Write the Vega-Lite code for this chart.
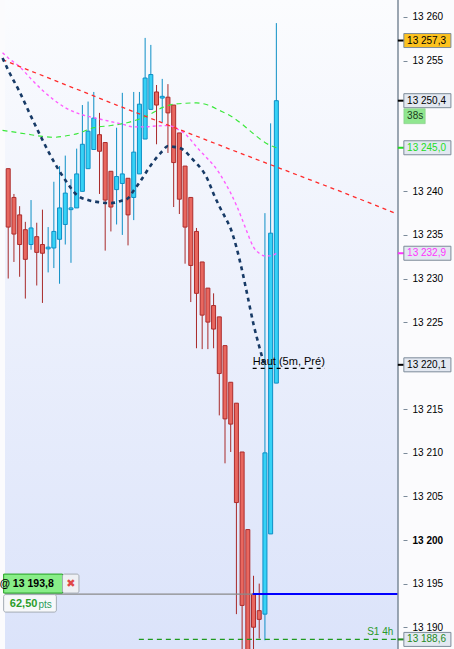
{
  "$schema": "https://vega.github.io/schema/vega-lite/v6.json",
  "width": 403,
  "height": 649,
  "autosize": {"type": "none"},
  "padding": {"left": 0, "top": 0, "right": 51, "bottom": 0},
  "background": "#fbfbfd",
  "config": {"view": {"stroke": null}, "font": "Liberation Sans"},
  "datasets": {
    "candles": [
      {"i": 1, "open": 13242.6, "high": 13242.6, "low": 13230.0, "close": 13235.9},
      {"i": 2, "open": 13239.3, "high": 13239.7, "low": 13231.9, "close": 13235.1},
      {"i": 3, "open": 13237.3, "high": 13238.3, "low": 13230.2, "close": 13233.9},
      {"i": 4, "open": 13235.6, "high": 13236.5, "low": 13227.7, "close": 13232.2},
      {"i": 5, "open": 13233.9, "high": 13239.0, "low": 13233.3, "close": 13235.8},
      {"i": 6, "open": 13234.8, "high": 13236.4, "low": 13229.2, "close": 13233.0},
      {"i": 7, "open": 13233.9, "high": 13237.9, "low": 13227.2, "close": 13232.9},
      {"i": 8, "open": 13233.4, "high": 13235.9, "low": 13230.7, "close": 13233.6},
      {"i": 9, "open": 13233.5, "high": 13241.1, "low": 13231.2, "close": 13235.4},
      {"i": 10, "open": 13234.5, "high": 13242.9, "low": 13229.4, "close": 13238.1},
      {"i": 11, "open": 13236.2, "high": 13244.1, "low": 13233.9, "close": 13239.8},
      {"i": 12, "open": 13237.9, "high": 13241.4, "low": 13231.8, "close": 13238.1},
      {"i": 13, "open": 13238.1, "high": 13244.9, "low": 13238.1, "close": 13242.0},
      {"i": 14, "open": 13240.0, "high": 13249.9, "low": 13240.0, "close": 13245.4},
      {"i": 15, "open": 13242.6, "high": 13250.3, "low": 13242.6, "close": 13246.9},
      {"i": 16, "open": 13244.8, "high": 13251.4, "low": 13244.8, "close": 13248.4},
      {"i": 17, "open": 13246.5, "high": 13249.0, "low": 13239.7, "close": 13244.6},
      {"i": 18, "open": 13245.6, "high": 13245.6, "low": 13233.2, "close": 13239.0},
      {"i": 19, "open": 13242.3, "high": 13242.3, "low": 13235.4, "close": 13238.2},
      {"i": 20, "open": 13240.2, "high": 13247.3, "low": 13236.2, "close": 13241.7},
      {"i": 21, "open": 13240.9, "high": 13251.3, "low": 13235.0, "close": 13242.0},
      {"i": 22, "open": 13241.5, "high": 13241.5, "low": 13233.8, "close": 13237.3},
      {"i": 23, "open": 13239.3, "high": 13251.4, "low": 13236.7, "close": 13244.5},
      {"i": 24, "open": 13242.0, "high": 13251.4, "low": 13242.0, "close": 13250.0},
      {"i": 25, "open": 13246.0, "high": 13257.6, "low": 13246.0, "close": 13253.0},
      {"i": 26, "open": 13249.4, "high": 13256.8, "low": 13249.4, "close": 13253.4},
      {"i": 27, "open": 13251.4, "high": 13252.2, "low": 13245.4, "close": 13249.9},
      {"i": 28, "open": 13250.7, "high": 13252.9, "low": 13247.9, "close": 13250.9},
      {"i": 29, "open": 13250.8, "high": 13252.3, "low": 13244.4, "close": 13249.0},
      {"i": 30, "open": 13249.9, "high": 13249.9, "low": 13238.2, "close": 13243.3},
      {"i": 31, "open": 13246.7, "high": 13246.7, "low": 13237.4, "close": 13239.1},
      {"i": 32, "open": 13242.9, "high": 13242.9, "low": 13231.7, "close": 13235.9},
      {"i": 33, "open": 13239.3, "high": 13239.3, "low": 13227.3, "close": 13231.5},
      {"i": 34, "open": 13235.4, "high": 13235.8, "low": 13222.0, "close": 13228.3},
      {"i": 35, "open": 13231.9, "high": 13231.9, "low": 13221.9, "close": 13225.8},
      {"i": 36, "open": 13228.9, "high": 13228.9, "low": 13221.9, "close": 13225.0},
      {"i": 37, "open": 13226.9, "high": 13228.3, "low": 13222.0, "close": 13224.2},
      {"i": 38, "open": 13225.6, "high": 13225.6, "low": 13214.3, "close": 13219.1},
      {"i": 39, "open": 13222.3, "high": 13222.3, "low": 13208.8, "close": 13213.9},
      {"i": 40, "open": 13218.1, "high": 13218.1, "low": 13210.1, "close": 13213.3},
      {"i": 41, "open": 13215.7, "high": 13215.7, "low": 13191.5, "close": 13204.3},
      {"i": 42, "open": 13210.1, "high": 13210.1, "low": 13185.0, "close": 13192.5},
      {"i": 43, "open": 13201.2, "high": 13201.2, "low": 13184.5, "close": 13186.0},
      {"i": 44, "open": 13193.8, "high": 13195.9, "low": 13186.0, "close": 13190.0},
      {"i": 45, "open": 13191.9, "high": 13195.0, "low": 13188.7, "close": 13190.9},
      {"i": 46, "open": 13191.5, "high": 13237.5, "low": 13188.5, "close": 13210.0},
      {"i": 47, "open": 13200.7, "high": 13247.8, "low": 13200.7, "close": 13235.2},
      {"i": 48, "open": 13218.0, "high": 13259.3, "low": 13218.0, "close": 13250.4}
    ],
    "lines": [
      {"s": "navy", "i": 0, "v": 13255.3}, {"s": "navy", "i": 1, "v": 13253.9}, {"s": "navy", "i": 3, "v": 13251.4},
      {"s": "navy", "i": 5, "v": 13248.6}, {"s": "navy", "i": 7, "v": 13245.9}, {"s": "navy", "i": 9, "v": 13243.4},
      {"s": "navy", "i": 11, "v": 13241.3}, {"s": "navy", "i": 13, "v": 13239.6}, {"s": "navy", "i": 15, "v": 13239.0},
      {"s": "navy", "i": 17, "v": 13238.75}, {"s": "navy", "i": 19, "v": 13238.65}, {"s": "navy", "i": 21, "v": 13238.95},
      {"s": "navy", "i": 22, "v": 13239.2}, {"s": "navy", "i": 23, "v": 13240.1}, {"s": "navy", "i": 24, "v": 13241.0},
      {"s": "navy", "i": 26, "v": 13243.0}, {"s": "navy", "i": 28, "v": 13244.6}, {"s": "navy", "i": 29, "v": 13245.2},
      {"s": "navy", "i": 30, "v": 13245.1}, {"s": "navy", "i": 31, "v": 13245.0}, {"s": "navy", "i": 32, "v": 13244.6},
      {"s": "navy", "i": 33, "v": 13243.9}, {"s": "navy", "i": 34, "v": 13243.2}, {"s": "navy", "i": 35, "v": 13242.45},
      {"s": "navy", "i": 36, "v": 13241.3}, {"s": "navy", "i": 37, "v": 13239.7}, {"s": "navy", "i": 38, "v": 13238.3},
      {"s": "navy", "i": 39, "v": 13237.05}, {"s": "navy", "i": 40, "v": 13235.7}, {"s": "navy", "i": 41, "v": 13233.6},
      {"s": "navy", "i": 42, "v": 13230.9}, {"s": "navy", "i": 43, "v": 13227.85}, {"s": "navy", "i": 44, "v": 13224.75},
      {"s": "navy", "i": 45, "v": 13222.2}, {"s": "navy", "i": 45.8, "v": 13220.3},
      {"s": "green", "i": 0, "v": 13247.0}, {"s": "green", "i": 1, "v": 13246.9}, {"s": "green", "i": 4, "v": 13246.6},
      {"s": "green", "i": 7, "v": 13246.3}, {"s": "green", "i": 9, "v": 13246.2}, {"s": "green", "i": 11, "v": 13246.35},
      {"s": "green", "i": 13, "v": 13246.6}, {"s": "green", "i": 16, "v": 13247.3}, {"s": "green", "i": 19, "v": 13247.55},
      {"s": "green", "i": 22, "v": 13247.9}, {"s": "green", "i": 24, "v": 13248.3}, {"s": "green", "i": 26, "v": 13248.9},
      {"s": "green", "i": 28, "v": 13249.6}, {"s": "green", "i": 30, "v": 13250.0}, {"s": "green", "i": 32, "v": 13250.1},
      {"s": "green", "i": 34, "v": 13250.15}, {"s": "green", "i": 36, "v": 13249.9}, {"s": "green", "i": 38, "v": 13249.3},
      {"s": "green", "i": 40, "v": 13248.65}, {"s": "green", "i": 42, "v": 13247.7}, {"s": "green", "i": 44, "v": 13246.6},
      {"s": "green", "i": 46, "v": 13245.6}, {"s": "green", "i": 48, "v": 13245.0},
      {"s": "pink", "i": 0, "v": 13255.9}, {"s": "pink", "i": 1, "v": 13255.3}, {"s": "pink", "i": 3, "v": 13254.3},
      {"s": "pink", "i": 5, "v": 13252.9}, {"s": "pink", "i": 7, "v": 13251.6}, {"s": "pink", "i": 9, "v": 13250.5},
      {"s": "pink", "i": 11, "v": 13249.6}, {"s": "pink", "i": 13, "v": 13249.0}, {"s": "pink", "i": 15, "v": 13248.6},
      {"s": "pink", "i": 17, "v": 13248.3}, {"s": "pink", "i": 19, "v": 13248.0}, {"s": "pink", "i": 21, "v": 13247.7},
      {"s": "pink", "i": 23, "v": 13247.4}, {"s": "pink", "i": 25, "v": 13247.4}, {"s": "pink", "i": 27, "v": 13247.5},
      {"s": "pink", "i": 29, "v": 13247.55}, {"s": "pink", "i": 30, "v": 13247.4}, {"s": "pink", "i": 31, "v": 13247.0},
      {"s": "pink", "i": 32, "v": 13246.6}, {"s": "pink", "i": 33, "v": 13245.9}, {"s": "pink", "i": 34, "v": 13245.1},
      {"s": "pink", "i": 35, "v": 13244.4}, {"s": "pink", "i": 36, "v": 13243.7}, {"s": "pink", "i": 37, "v": 13243.0},
      {"s": "pink", "i": 38, "v": 13242.1}, {"s": "pink", "i": 39, "v": 13241.0}, {"s": "pink", "i": 40, "v": 13239.8},
      {"s": "pink", "i": 41, "v": 13238.4}, {"s": "pink", "i": 42, "v": 13236.8}, {"s": "pink", "i": 43, "v": 13235.1},
      {"s": "pink", "i": 44, "v": 13233.6}, {"s": "pink", "i": 45, "v": 13232.9}, {"s": "pink", "i": 46, "v": 13232.6},
      {"s": "pink", "i": 47, "v": 13232.6}, {"s": "pink", "i": 48, "v": 13232.9},
      {"s": "red", "i": 0, "v": 13255.1}, {"s": "red", "i": 20, "v": 13249.9}, {"s": "red", "i": 40, "v": 13244.8},
      {"s": "red", "i": 60, "v": 13239.8}, {"s": "red", "i": 68.8, "v": 13237.5}
    ],
    "levels": [
      {"name": "S1 4h", "value": 13188.6, "from": 23.9, "to": 69.325},
      {"name": "Haut (5m, Pré)", "value": 13219.7, "from": 43.85, "to": 56.5},
      {"name": "position", "value": 13193.8, "from": 0.436, "to": 43.85},
      {"name": "stop", "value": 13193.8, "from": 43.85, "to": 69.325}
    ],
    "tags": [
      {"value": 13257.3, "label": "13 257,3", "kind": "high"},
      {"value": 13250.4, "label": "13 250,4", "kind": "last"},
      {"value": 13245.0, "label": "13 245,0", "kind": "green"},
      {"value": 13232.9, "label": "13 232,9", "kind": "pink"},
      {"value": 13220.1, "label": "13 220,1", "kind": "navy"},
      {"value": 13188.6, "label": "13 188,6", "kind": "s1"}
    ]
  },
  "layer": [
    {
      "data": {"values": [{}]},
      "mark": {"type": "rect", "fill": {"gradient": "linear", "x1": 0, "y1": 0, "x2": 0, "y2": 1, "stops": [{"offset": 0, "color": "#fbfcfe"}, {"offset": 1, "color": "#dbe3fa"}]}},
      "encoding": {
        "x": {"datum": 0.436, "type": "quantitative", "scale": {"domain": [0.436, 69.325], "nice": false, "zero": false}, "axis": null},
        "x2": {"datum": 69.325},
        "y": {"datum": 13187.5, "type": "quantitative", "scale": {"domain": [13187.5, 13261.95], "nice": false, "zero": false}},
        "y2": {"datum": 13261.95}
      }
    },
    {
      "data": {"name": "candles"},
      "mark": {"type": "rule", "strokeWidth": 1, "clip": true},
      "encoding": {
        "x": {"field": "i", "type": "quantitative", "scale": {"domain": [0.436, 69.325], "nice": false, "zero": false}, "axis": null},
        "y": {"field": "low", "type": "quantitative", "scale": {"domain": [13187.5, 13261.95], "nice": false, "zero": false},
          "axis": {"orient": "right", "values": [13190, 13195, 13200, 13205, 13210, 13215, 13225, 13230, 13235, 13240, 13255, 13260],
            "title": null, "domain": false, "ticks": true, "tickSize": 4, "tickColor": "#7b8a99", "labelPadding": 5, "grid": false,
            "labelFont": "Liberation Sans", "labelFontSize": 10, "labelColor": "#000000", "labelOverlap": false, "labelBound": false, "labelFlush": false,
            "labelExpr": "replace(format(datum.value, ','), ',', ' ')",
            "labelFontWeight": {"condition": {"test": "datum.value === 13200", "value": "bold"}, "value": "normal"}}},
        "y2": {"field": "high"},
        "color": {"condition": {"test": "datum.close >= datum.open", "value": "#0e8fc6"}, "value": "#a82a2a"}
      }
    },
    {
      "data": {"name": "candles"},
      "mark": {"type": "bar", "width": 4, "strokeWidth": 1, "clip": true},
      "encoding": {
        "x": {"field": "i", "type": "quantitative", "axis": null},
        "y": {"field": "open", "type": "quantitative"},
        "y2": {"field": "close"},
        "fill": {"condition": {"test": "datum.close >= datum.open", "value": "#36d2f6"}, "value": "#e8675f"},
        "stroke": {"condition": {"test": "datum.close >= datum.open", "value": "#0e8fc6"}, "value": "#ad2c2c"}
      }
    },
    {
      "data": {"name": "lines"},
      "transform": [{"filter": "datum.s === 'green'"}],
      "mark": {"type": "line", "color": "#3be83b", "strokeWidth": 1.2, "strokeDash": [5, 4], "interpolate": "monotone", "clip": true},
      "encoding": {"x": {"field": "i", "type": "quantitative", "axis": null}, "y": {"field": "v", "type": "quantitative"}}
    },
    {
      "data": {"name": "lines"},
      "transform": [{"filter": "datum.s === 'pink'"}],
      "mark": {"type": "line", "color": "#ff5cff", "strokeWidth": 1.4, "strokeDash": [3, 3], "interpolate": "monotone", "clip": true},
      "encoding": {"x": {"field": "i", "type": "quantitative", "axis": null}, "y": {"field": "v", "type": "quantitative"}}
    },
    {
      "data": {"name": "lines"},
      "transform": [{"filter": "datum.s === 'red'"}],
      "mark": {"type": "line", "color": "#ff2a2a", "strokeWidth": 1.3, "strokeDash": [4, 4], "clip": true},
      "encoding": {"x": {"field": "i", "type": "quantitative", "axis": null}, "y": {"field": "v", "type": "quantitative"}}
    },
    {
      "data": {"name": "lines"},
      "transform": [{"filter": "datum.s === 'navy'"}],
      "mark": {"type": "line", "color": "#173a66", "strokeWidth": 2.6, "strokeDash": [4, 4], "interpolate": "monotone", "clip": true},
      "encoding": {"x": {"field": "i", "type": "quantitative", "axis": null}, "y": {"field": "v", "type": "quantitative"}}
    },
    {
      "data": {"name": "levels"},
      "transform": [{"filter": "datum.name === 'position'"}],
      "mark": {"type": "rule", "color": "#8a8a8a", "strokeWidth": 1.2},
      "encoding": {"x": {"field": "from", "type": "quantitative", "axis": null}, "x2": {"field": "to"}, "y": {"field": "value", "type": "quantitative"}}
    },
    {
      "data": {"name": "levels"},
      "transform": [{"filter": "datum.name === 'stop'"}],
      "mark": {"type": "rule", "color": "#0000ff", "strokeWidth": 2},
      "encoding": {"x": {"field": "from", "type": "quantitative", "axis": null}, "x2": {"field": "to"}, "y": {"field": "value", "type": "quantitative"}}
    },
    {
      "data": {"name": "levels"},
      "transform": [{"filter": "datum.name === 'S1 4h'"}],
      "mark": {"type": "rule", "color": "#1f9a1f", "strokeWidth": 1.2, "strokeDash": [5, 4]},
      "encoding": {"x": {"field": "from", "type": "quantitative", "axis": null}, "x2": {"field": "to"}, "y": {"field": "value", "type": "quantitative"}}
    },
    {
      "data": {"name": "levels"},
      "transform": [{"filter": "datum.name === 'Haut (5m, Pré)'"}],
      "mark": {"type": "rule", "color": "#000000", "strokeWidth": 1.2, "strokeDash": [4, 4]},
      "encoding": {"x": {"field": "from", "type": "quantitative", "axis": null}, "x2": {"field": "to"}, "y": {"field": "value", "type": "quantitative"}}
    },
    {
      "data": {"name": "levels"},
      "transform": [{"filter": "datum.name === 'Haut (5m, Pré)'"}],
      "mark": {"type": "text", "align": "left", "baseline": "alphabetic", "dy": -3, "fontSize": 11, "font": "Liberation Sans", "color": "#000000"},
      "encoding": {"x": {"field": "from", "type": "quantitative", "axis": null}, "y": {"field": "value", "type": "quantitative"}, "text": {"field": "name"}}
    },
    {
      "data": {"name": "levels"},
      "transform": [{"filter": "datum.name === 'S1 4h'"}],
      "mark": {"type": "text", "align": "right", "baseline": "alphabetic", "dy": -4, "fontSize": 10, "font": "Liberation Sans", "color": "#2a9a2a"},
      "encoding": {"x": {"datum": 68.5, "type": "quantitative", "axis": null}, "y": {"field": "value", "type": "quantitative"}, "text": {"field": "name"}}
    },
    {
      "data": {"values": [{}]},
      "mark": {"type": "rule", "color": "#7b8a99", "strokeWidth": 1.5},
      "encoding": {"x": {"datum": 69.325, "type": "quantitative", "axis": null}, "y": {"datum": 13187.5, "type": "quantitative"}, "y2": {"datum": 13261.95}}
    },
    {
      "data": {"name": "tags"},
      "mark": {"type": "rule", "strokeWidth": 2},
      "encoding": {
        "x": {"datum": 69.3, "type": "quantitative", "axis": null}, "x2": {"datum": 70.4},
        "y": {"field": "value", "type": "quantitative"},
        "color": {"field": "kind", "type": "nominal", "legend": null, "scale": {"domain": ["high", "last", "green", "pink", "navy", "s1"], "range": ["#000000", "#000000", "#22dd22", "#ff33ff", "#000000", "#238a23"]}}
      }
    },
    {
      "data": {"name": "tags"},
      "mark": {"type": "rect", "stroke": "#7d8b99", "strokeWidth": 1, "yOffset": -7, "y2Offset": 7},
      "encoding": {
        "x": {"datum": 70.35, "type": "quantitative", "axis": null}, "x2": {"datum": 78.6},
        "y": {"field": "value", "type": "quantitative"}, "y2": {"field": "value"},
        "fill": {"condition": {"test": "datum.kind === 'high'", "value": "#fcc21e"}, "value": "#e3e8f1"}
      }
    },
    {
      "data": {"name": "tags"},
      "mark": {"type": "text", "align": "left", "baseline": "middle", "fontSize": 10, "font": "Liberation Sans"},
      "encoding": {
        "x": {"datum": 70.92, "type": "quantitative", "axis": null},
        "y": {"field": "value", "type": "quantitative"},
        "text": {"field": "label"},
        "color": {"field": "kind", "type": "nominal", "legend": null}
      }
    },
    {
      "data": {"name": "tags"},
      "transform": [{"filter": "datum.kind === 'last'"}],
      "mark": {"type": "rect", "fill": "#90e690", "stroke": "#7cc47c", "strokeWidth": 0.5, "yOffset": 8, "y2Offset": 23},
      "encoding": {
        "x": {"datum": 70.35, "type": "quantitative", "axis": null}, "x2": {"datum": 74.1},
        "y": {"field": "value", "type": "quantitative"}, "y2": {"field": "value"}
      }
    },
    {
      "data": {"name": "tags"},
      "transform": [{"filter": "datum.kind === 'last'"}],
      "mark": {"type": "text", "text": "38s", "align": "left", "baseline": "middle", "dy": 15.5, "fontSize": 10, "font": "Liberation Sans", "color": "#1a3a1a"},
      "encoding": {
        "x": {"datum": 70.92, "type": "quantitative", "axis": null},
        "y": {"field": "value", "type": "quantitative"}
      }
    },
    {
      "data": {"name": "levels"},
      "transform": [{"filter": "datum.name === 'position'"}],
      "mark": {"type": "rect", "fill": "#88ee88", "stroke": "#22a022", "strokeWidth": 1, "yOffset": -20, "y2Offset": -1},
      "encoding": {
        "x": {"datum": 0.2, "type": "quantitative", "axis": null}, "x2": {"datum": 10.52},
        "y": {"field": "value", "type": "quantitative"}, "y2": {"field": "value"}
      }
    },
    {
      "data": {"name": "levels"},
      "transform": [{"filter": "datum.name === 'position'"}],
      "mark": {"type": "rect", "fill": "#eef0f4", "stroke": "#a4abb4", "strokeWidth": 1, "cornerRadius": 2, "yOffset": -20, "y2Offset": -1},
      "encoding": {
        "x": {"datum": 10.52, "type": "quantitative", "axis": null}, "x2": {"datum": 13.4},
        "y": {"field": "value", "type": "quantitative"}, "y2": {"field": "value"}
      }
    },
    {
      "data": {"name": "levels"},
      "transform": [{"filter": "datum.name === 'position'"}],
      "mark": {"type": "rect", "fill": "#f7f8fa", "stroke": "#a4abb4", "strokeWidth": 1, "cornerRadius": 2, "yOffset": 0.5, "y2Offset": 18},
      "encoding": {
        "x": {"datum": 0.2, "type": "quantitative", "axis": null}, "x2": {"datum": 9.44},
        "y": {"field": "value", "type": "quantitative"}, "y2": {"field": "value"}
      }
    },
    {
      "data": {"name": "levels"},
      "transform": [{"filter": "datum.name === 'position'"}],
      "mark": {"type": "text", "text": "@ 13 193,8", "align": "right", "baseline": "middle", "dy": -10, "fontSize": 10.5, "fontWeight": "bold", "font": "Liberation Sans", "color": "#000000"},
      "encoding": {"x": {"datum": 8.98, "type": "quantitative", "axis": null}, "y": {"field": "value", "type": "quantitative"}}
    },
    {
      "data": {"name": "levels"},
      "transform": [{"filter": "datum.name === 'position'"}],
      "mark": {"type": "text", "text": "✖", "align": "center", "baseline": "middle", "dy": -10, "fontSize": 11, "font": "DejaVu Sans", "color": "#e04848"},
      "encoding": {"x": {"datum": 11.97, "type": "quantitative", "axis": null}, "y": {"field": "value", "type": "quantitative"}}
    },
    {
      "data": {"name": "levels"},
      "transform": [{"filter": "datum.name === 'position'"}],
      "mark": {"type": "text", "text": "62,50", "align": "left", "baseline": "middle", "dy": 10, "fontSize": 11, "fontWeight": "bold", "font": "Liberation Sans", "color": "#2a9d2a"},
      "encoding": {"x": {"datum": 1.29, "type": "quantitative", "axis": null}, "y": {"field": "value", "type": "quantitative"}}
    },
    {
      "data": {"name": "levels"},
      "transform": [{"filter": "datum.name === 'position'"}],
      "mark": {"type": "text", "text": "pts", "align": "left", "baseline": "middle", "dy": 10.5, "fontSize": 10, "font": "Liberation Sans", "color": "#2a9d5a"},
      "encoding": {"x": {"datum": 6.3, "type": "quantitative", "axis": null}, "y": {"field": "value", "type": "quantitative"}}
    }
  ]
}
